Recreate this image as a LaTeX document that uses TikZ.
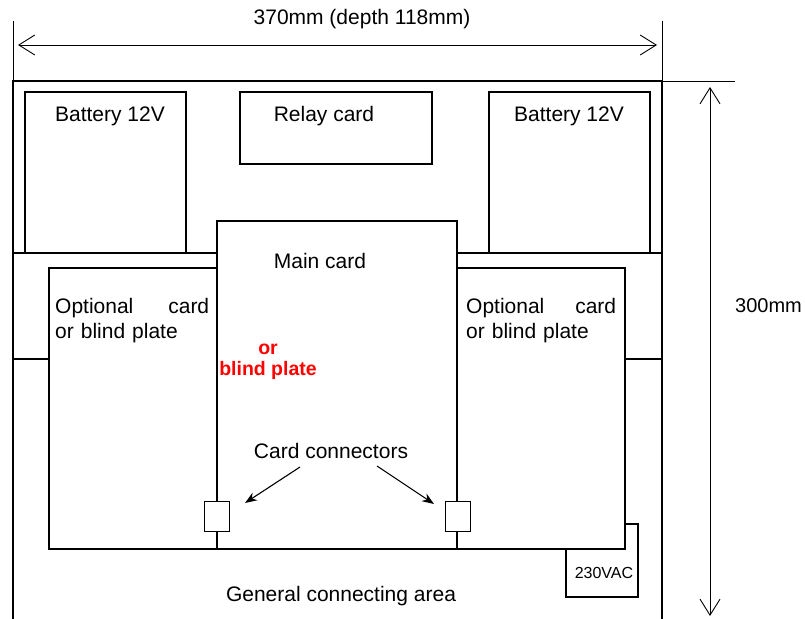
\documentclass[tikz,border=0pt]{standalone}
\usepackage{fontspec}
\setmainfont{Liberation Sans}
\usetikzlibrary{arrows.meta}
\begin{document}
\begin{tikzpicture}[x=1pt,y=-1pt,
  thickline/.style={line width=2pt},
  thinline/.style={line width=0.9pt},
  box/.style={thickline,draw,rectangle,inner sep=0pt,outer sep=0pt,anchor=north west},
  wbox/.style={box,fill=white},
  conbox/.style={thinline,draw,fill=white,rectangle,inner sep=0pt,outer sep=0pt,anchor=north west,minimum width=25pt,minimum height=30pt},
  lbl/.style={inner sep=0pt,font=\fontsize{21}{25}\selectfont},
  redlbl/.style={inner sep=0pt,text=red,font=\fontsize{19.5}{22}\selectfont\bfseries},
  dimarrow/.style={thinline,{Straight Barb[length=16pt,width=20pt]}-{Straight Barb[length=16pt,width=20pt]}},
  ptr/.style={line width=1.1pt,-{Stealth[length=12pt,width=9pt]}}
]
\useasboundingbox (0,0) rectangle (805,618);

% outer enclosure (open at bottom)
\coordinate (oBL) at (13,622);
\coordinate (oTL) at (13,81);
\coordinate (oTR) at (662,81);
\coordinate (oBR) at (662,622);
\draw[thickline] (oBL) -- (oTL) -- (oTR) -- (oBR);

% top row
\node[box,minimum width=161pt,minimum height=161pt] (bat1) at (25,92) {};
\node[box,minimum width=192pt,minimum height=72pt] (relay) at (240,92) {};
\node[box,minimum width=161pt,minimum height=161pt] (bat2) at (489,92) {};
\node[lbl] (bat1t) at (110,116) {Battery 12V};
\node[lbl] (relayt) at (324,116) {Relay card};
\node[lbl] (bat2t) at (569,116) {Battery 12V};

% band
\node[box,minimum width=649pt,minimum height=106pt] (band) at (13,253) {};

% 230VAC
\node[box,minimum width=72pt,minimum height=73pt] (ac) at (566,524) {};
\node[inner sep=0pt,font=\fontsize{16}{19}\selectfont] (act) at (604,573) {230VAC};

% cards
\node[wbox,minimum width=168pt,minimum height=281pt] (opt1) at (49,268) {};
\node[wbox,minimum width=168pt,minimum height=281pt] (opt2) at (457,268) {};
\node[wbox,minimum width=240pt,minimum height=328pt] (main) at (217,221) {};

\node[lbl,text width=154pt,align=left,anchor=north west] (opt1t) at (55,298) {Optional\hfill card\\or blind plate};
\node[lbl,text width=150pt,align=left,anchor=north west] (opt2t) at (466,298) {Optional\hfill card\\or blind plate};
\node[lbl] (maint) at (320,261) {Main card};
\node[redlbl] (or) at (268,349) {or};
\node[redlbl] (blind) at (268,370) {blind plate};

% connectors
\node[conbox] (c1) at (204,501) {};
\node[conbox] (c2) at (445,501) {};
\node[lbl] (cct) at (331,451) {Card connectors};
\coordinate (a1s) at (300,467);
\coordinate (a1e) at (245,503);
\coordinate (a2s) at (377,466);
\coordinate (a2e) at (434,504);
\draw[ptr] (a1s) -- (a1e);
\draw[ptr] (a2s) -- (a2e);

\node[lbl] (gen) at (341,596) {General connecting area};

% top dimension
\coordinate (e1t) at (13,21);
\coordinate (e2t) at (662,21);
\draw[thinline] (e1t) -- (oTL);
\draw[thinline] (e2t) -- (oTR);
\coordinate (d1) at (18,45);
\coordinate (d2) at (657,45);
\draw[dimarrow] (d1) -- (d2);
\node[lbl] (wtxt) at (362,19) {370mm (depth 118mm)};

% right dimension
\coordinate (e3) at (735,81);
\draw[thinline] (oTR) -- (e3);
\coordinate (v1) at (710,87);
\coordinate (v2) at (710,616);
\draw[dimarrow] (v1) -- (v2);
\node[inner sep=0pt,font=\fontsize{20}{24}\selectfont,anchor=west] (htxt) at (735,306) {300mm};
\end{tikzpicture}
\end{document}
